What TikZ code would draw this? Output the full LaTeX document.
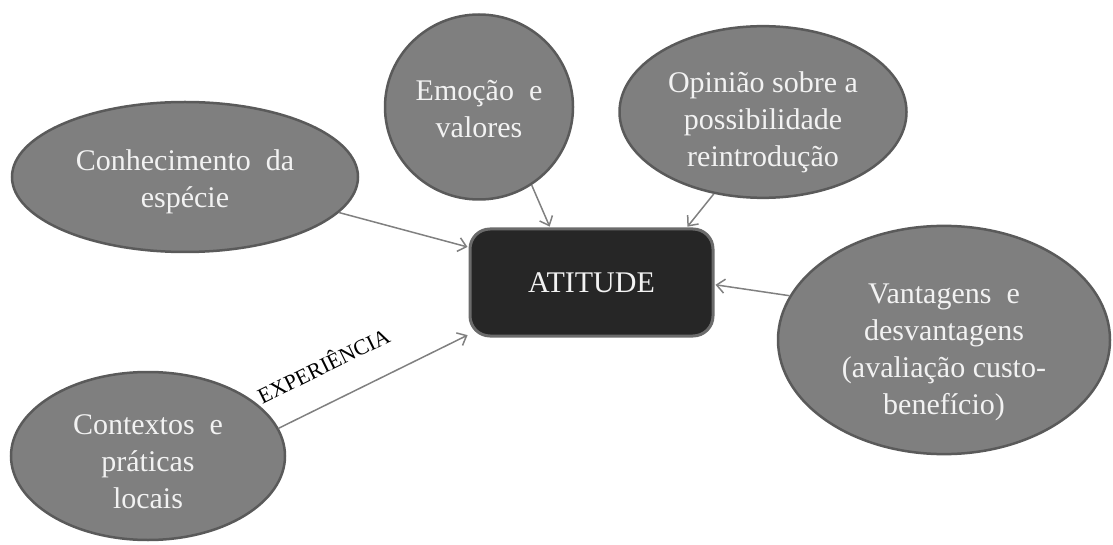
\documentclass[tikz,border=0pt]{standalone}
\usepackage{fontspec}
\setmainfont{Liberation Serif}
\usepackage{tikz}
\usetikzlibrary{arrows.meta,shapes.geometric}

\definecolor{ballfill}{HTML}{7F7F7F}
\definecolor{balledge}{HTML}{5A5A5A}
\definecolor{corefill}{HTML}{262626}
\definecolor{coreedge}{HTML}{6B6B6B}
\definecolor{linkgray}{HTML}{808080}

\begin{document}
\begin{tikzpicture}[x=1pt,y=1pt,->,>={Straight Barb[length=8pt,width=14pt]},shorten >=1pt,
                    line width=1.5pt]
  \tikzstyle{idea}=[ellipse,fill=ballfill,draw=balledge,line width=2.5pt,inner sep=0pt,
                    text=white!95!black,align=center,font=\fontsize{30}{37}\selectfont]
  \tikzstyle{core}=[rectangle,rounded corners=20pt,fill=corefill,draw=coreedge,line width=3pt,
                    text=white!95!black,font=\fontsize{30}{37}\selectfont]
  \tikzstyle{link}=[draw=linkgray]

  \useasboundingbox (0,0) rectangle (1113,544);

  \node[core,minimum width=243pt,minimum height=107pt] (att) at (591.5,261.5) {ATITUDE};

  % the first line gets a strut so the text sits a bit low in the ellipse
  \node[idea,minimum width=346pt,minimum height=150pt] (con) at (185,367)  {\rule{0pt}{30pt}Conhecimento\ \ da\\espécie};
  \node[idea,minimum width=188pt,minimum height=185pt] (emo) at (479,437)  {\rule{0pt}{25pt}Emoção\ \ e\\valores};
  \node[idea,minimum width=287pt,minimum height=168pt] (opi) at (763,432)  {\rule{0pt}{41pt}Opinião\ sobre\ a\\possibilidade\\reintrodução};
  \node[idea,minimum width=332pt,minimum height=220pt] (van) at (944,204)  {\rule{0pt}{44pt}Vantagens\ \ e\\desvantagens\\(avaliação\ custo-\\benefício)};
  \node[idea,minimum width=274pt,minimum height=168pt] (ctx) at (148,88)   {\rule{0pt}{31pt}Contextos\ \ e\\práticas\\locais};

  \path (con.-13)  edge [link]  (att.164)
        (emo.-56)  edge [link]  (att.127)
        (opi.-121) edge [link]  (att.30)
        (van.164)  edge [link]  (att.-1)
        (ctx.12)   edge [link]  node[sloped,above=24pt,pos=0.32,text=black,
                                     font=\fontsize{22}{26}\selectfont] {EXPERIÊNCIA} (att.-157);

\end{tikzpicture}
\end{document}
